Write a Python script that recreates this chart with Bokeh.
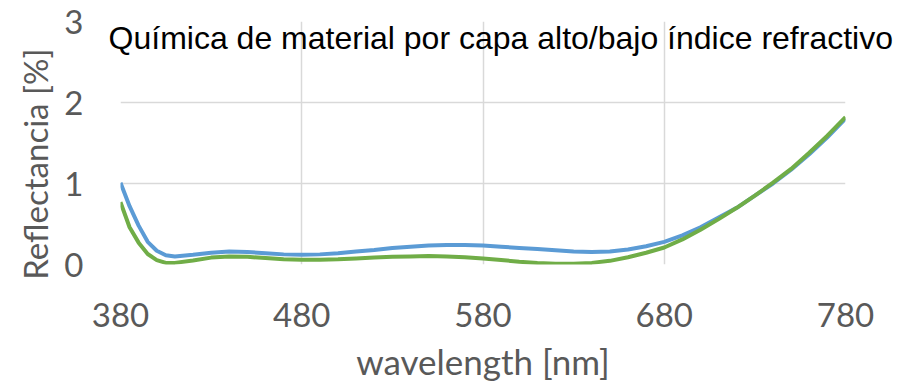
from bokeh.plotting import figure
from bokeh.models import LinearAxis, FixedTicker
from bokeh.embed import file_html
from bokeh.resources import INLINE

wavelength = [380, 385, 390, 395, 400, 405, 410, 420, 430, 440, 450, 460, 470, 480, 490,
              500, 510, 520, 530, 540, 550, 560, 570, 580, 590, 600, 610, 620, 630, 640,
              650, 660, 670, 680, 690, 700, 710, 720, 730, 740, 750, 760, 770, 780]
blue = [1.01, 0.72, 0.48, 0.28, 0.17, 0.115, 0.10, 0.12, 0.145, 0.16, 0.155, 0.14, 0.125, 0.12, 0.125,
        0.14, 0.16, 0.18, 0.205, 0.22, 0.235, 0.24, 0.24, 0.235, 0.22, 0.205, 0.19, 0.175, 0.16, 0.155,
        0.16, 0.185, 0.225, 0.28, 0.36, 0.46, 0.58, 0.70, 0.85, 1.00, 1.17, 1.36, 1.57, 1.80]
green = [0.77, 0.46, 0.27, 0.13, 0.055, 0.02, 0.02, 0.05, 0.085, 0.10, 0.095, 0.08, 0.065, 0.06, 0.06,
         0.065, 0.075, 0.085, 0.095, 0.10, 0.105, 0.10, 0.09, 0.075, 0.055, 0.035, 0.02, 0.01, 0.01, 0.02,
         0.045, 0.09, 0.145, 0.21, 0.31, 0.43, 0.56, 0.70, 0.85, 1.01, 1.18, 1.38, 1.59, 1.82]
x_ticks = [380, 480, 580, 680, 780]
y_ticks = [0, 1, 2, 3]
title_text = "Química de material por capa alto/bajo índice refractivo"
x_title = "wavelength [nm]"
y_title = "Reflectancia [%]"

NB = "\u00a0"

p = figure(width=898, height=384, frame_width=725, frame_height=243,
           x_range=(380, 780), y_range=(0, 3),
           output_backend="svg", toolbar_location=None,
           min_border_left=120, min_border_right=53, min_border_top=21, min_border_bottom=120)
p.outline_line_color = None
p.background_fill_color = "white"

p.line(wavelength, blue, line_color="#5B9BD5", line_width=4)
p.line(wavelength, green, line_color="#70AD47", line_width=4)

for ax in (p.xaxis[0], p.yaxis[0]):
    ax.axis_line_color = None
    ax.major_tick_line_color = None
    ax.minor_tick_line_color = None
    ax.major_label_text_font = "Lato"
    ax.major_label_text_font_size = "33px"
    ax.major_label_text_color = "#595959"
    ax.axis_label_text_font = "Lato"
    ax.axis_label_text_font_style = "normal"
    ax.axis_label_text_color = "#595959"

p.xaxis.ticker = FixedTicker(ticks=x_ticks)
p.yaxis.ticker = FixedTicker(ticks=y_ticks)
p.xaxis.major_label_standoff = 32
p.yaxis.major_label_standoff = 31
p.xaxis.axis_label = x_title
p.yaxis.axis_label = y_title + NB * 5
p.xaxis.axis_label_text_font_size = "35px"
p.yaxis.axis_label_text_font_size = "33px"
p.xaxis.axis_label_standoff = 10
p.yaxis.axis_label_standoff = 6

p.xgrid.grid_line_color = "#D9D9D9"
p.ygrid.grid_line_color = "#D9D9D9"
p.xgrid.grid_line_width = 1.5
p.ygrid.grid_line_width = 1.5

# chart title drawn as the label of an empty top axis, pulled down over the plot area
top_axis = LinearAxis(ticker=FixedTicker(ticks=[]), axis_label=NB * 4 + title_text,
                      axis_line_color=None, major_tick_line_color=None,
                      minor_tick_line_color=None, major_tick_out=0, major_tick_in=0,
                      axis_label_text_font="Liberation Sans", axis_label_text_font_size="32px",
                      axis_label_text_font_style="normal", axis_label_text_color="black",
                      axis_label_standoff=-34)
p.add_layout(top_axis, "above")

open("out.html", "w").write(file_html(p, INLINE))
